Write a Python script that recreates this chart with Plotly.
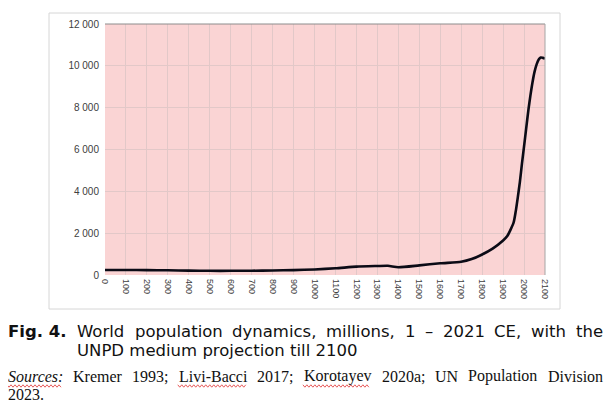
import plotly.graph_objects as go

# population data, millions
years = [0, 100, 200, 300, 400, 500, 600, 700, 800, 900, 1000, 1100, 1200,
         1300, 1350, 1400, 1500, 1600, 1700, 1750, 1800, 1850, 1900, 1920,
         1950, 1960, 1970, 1980, 1990, 2000, 2010, 2021, 2030, 2040, 2050,
         2060, 2070, 2080, 2090, 2100]
population = [240, 240, 235, 225, 210, 200, 200, 205, 215, 235, 265, 320, 400,
              430, 440, 370, 460, 560, 630, 760, 980, 1260, 1650, 1860,
              2500, 3020, 3700, 4440, 5320, 6150, 6990, 7910, 8550, 9190, 9710,
              10070, 10300, 10400, 10380, 10350]

fig_label = "Fig. 4."
caption_line1 = ["World", "population", "dynamics,", "millions,", "1", "–",
                 "2021", "CE,", "with", "the"]
caption_line2 = "UNPD medium projection till 2100"
sources_label = "Sources:"
sources_line1 = ["Kremer", "1993;", "Livi-Bacci", "2017;", "Korotayev",
                 "2020a;", "UN", "Population", "Division"]
sources_line2 = "2023."

# page body has an 8px margin, so work in window pixels and shift by it
OFF = 8
W, H = 614 - 2 * OFF, 415 - 2 * OFF
ML, MT = 105 - OFF, 24 - OFF
MR = W - (545 - OFF)
MB = H - (275 - OFF)
PW, PH = W - ML - MR, H - MT - MB


def px(x):
    return (x - OFF - ML) / PW


def py(y):
    return (H - MB - (y - OFF)) / PH


# rough advance widths (em) for justifying the caption lines
SANS_EM = {" ": .318, ",": .318, ".": .318, "-": .361, "–": .5, ":": .337, ";": .337,
           "U": .732, "N": .748, "P": .603, "D": .770, "W": .989, "C": .698, "E": .632,
           "a": .613, "c": .550, "d": .635, "e": .615, "h": .634, "i": .278, "j": .278,
           "l": .278, "m": .974, "n": .634, "o": .612, "p": .635, "r": .411, "s": .521,
           "t": .392, "u": .634, "w": .818, "y": .592}
SERIF_EM = {",": .25, ".": .25, "-": .333, ":": .278, ";": .278, "B": .667, "D": .722,
            "K": .722, "L": .611, "N": .722, "P": .556, "S": .556, "U": .722,
            "a": .444, "c": .444, "e": .444, "i": .278, "l": .278, "m": .778, "n": .5,
            "o": .5, "p": .5, "r": .333, "s": .389, "t": .278, "u": .5, "v": .5, "y": .5}


def width(word, table, size):
    return sum(table.get(ch, .636 if table is SANS_EM else .5) for ch in word) * size


def justify(words, table, size, x0, x1):
    ws = [width(w, table, size) for w in words]
    gap = (x1 - x0 - sum(ws)) / (len(words) - 1)
    xs, x = [], x0
    for w in ws:
        xs.append(x)
        x += w + gap
    return xs


fig = go.Figure()
fig.add_trace(go.Scatter(x=years, y=population, mode="lines",
                         line=dict(color="#0b0b16", width=2.6, shape="spline", smoothing=0.6),
                         hoverinfo="x+y"))

fig.update_layout(
    width=W, height=H,
    margin=dict(l=ML, r=MR, t=MT, b=MB, autoexpand=False),
    paper_bgcolor="white",
    plot_bgcolor="#fad4d4",
    showlegend=False,
    separators=", ",
    xaxis=dict(range=[0, 2100], dtick=100, tick0=0, tickangle=90,
               showgrid=True, gridcolor="#e2c8c8", gridwidth=1,
               zeroline=False, showline=False, ticks="", automargin=False,
               ticklabelstandoff=3,
               tickfont=dict(family="Liberation Sans", size=9, color="#404040")),
    yaxis=dict(range=[0, 12000], dtick=2000, tickformat=",d",
               showgrid=True, gridcolor="#e2c8c8", gridwidth=1,
               zeroline=False, showline=False, ticks="", automargin=False,
               ticklabelstandoff=5,
               tickfont=dict(family="Liberation Sans", size=10, color="#404040")),
)

shapes = [
    # outer chart frame
    dict(type="rect", xref="paper", yref="paper", x0=px(49), x1=px(560), y0=py(309), y1=py(13),
         line=dict(color="#d6d6d6", width=1), layer="below"),
    # plot area border top and right
    dict(type="line", xref="paper", yref="paper", x0=0, x1=1, y0=1, y1=1,
         line=dict(color="#8c8c8c", width=1)),
    dict(type="line", xref="paper", yref="paper", x0=1, x1=1, y0=0, y1=1,
         line=dict(color="#a6a6a6", width=1)),
]


def squiggle(x0, x1, y):
    pts = []
    x = x0
    k = 0
    while x <= x1:
        yy = y + (1.2 if k % 2 else -1.2)
        pts.append(f"{px(x):.5f},{py(yy):.5f}")
        x += 2
        k += 1
    return "M " + " L ".join(pts)


sans = "DejaVu Sans"
serif = "Liberation Serif"
CAP_SIZE = 16.5
SRC_SIZE = 16

line1_x = justify(caption_line1, SANS_EM, CAP_SIZE, 76, 602)
src_words = [sources_label] + sources_line1
src1_x = justify(src_words, SERIF_EM, SRC_SIZE, 7, 602)

# spell-check squiggles under Sources:, Livi-Bacci, Korotayev
for i in (0, 3, 5):
    a = src1_x[i]
    b = a + width(src_words[i], SERIF_EM, SRC_SIZE)
    shapes.append(dict(type="path", xref="paper", yref="paper", path=squiggle(a, b, 386),
                       line=dict(color="#e03030", width=0.8)))
fig.update_layout(shapes=shapes)


def word(text, x, y, family, size):
    return dict(text=text, x=px(x), y=py(y), xref="paper", yref="paper",
                xanchor="left", yanchor="bottom", showarrow=False, borderpad=0,
                font=dict(family=family, size=size, color="#111111"))


ann = [word(f"<b>{fig_label}</b>", 7, 342, sans, CAP_SIZE)]
for w, x in zip(caption_line1, line1_x):
    ann.append(word(w, x, 342, sans, CAP_SIZE))
ann.append(word(caption_line2, 76, 361, sans, CAP_SIZE))
for i, (w, x) in enumerate(zip(src_words, src1_x)):
    ann.append(word(f"<i>{w}</i>" if i == 0 else w, x, 386, serif, SRC_SIZE))
ann.append(word(sources_line2, 7, 404, serif, SRC_SIZE))
fig.update_layout(annotations=ann)

fig.write_html("out.html")
